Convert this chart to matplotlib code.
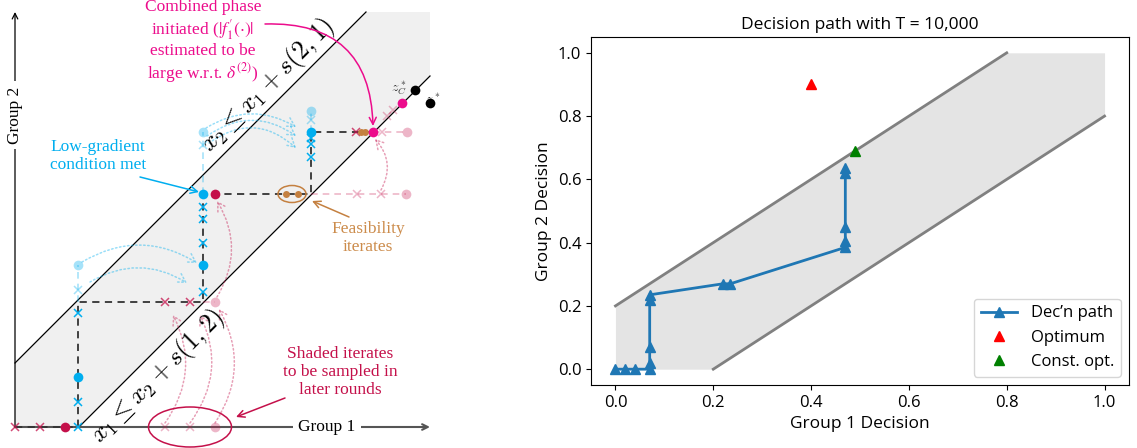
import matplotlib
matplotlib.use("Agg")
import matplotlib.pyplot as plt
from matplotlib.patches import Ellipse, FancyArrowPatch, Polygon

# ---------------- right panel: decision path ----------------
path_x = [0.0, 0.02, 0.04, 0.07, 0.07, 0.07, 0.07, 0.07, 0.22, 0.235, 0.47, 0.47, 0.47, 0.47, 0.47]
path_y = [0.0, 0.0, 0.0, 0.0, 0.02, 0.07, 0.22, 0.235, 0.27, 0.27, 0.385, 0.405, 0.45, 0.62, 0.635]
opt_x, opt_y = [0.4], [0.9]
const_x, const_y = [0.49], [0.69]
band_x = [0.0, 0.2, 0.8, 1.0]
band_lo = [0.0, 0.0, 0.6, 0.8]
band_hi = [0.2, 0.4, 1.0, 1.0]
upper_x, upper_y = [0.0, 0.8], [0.2, 1.0]
lower_x, lower_y = [0.2, 1.0], [0.0, 0.8]
ticks = [0.0, 0.2, 0.4, 0.6, 0.8, 1.0]
legend_labels = ["Dec\u2019n path", "Optimum", "Const. opt."]

# ---------------- left panel: schematic (1 unit = 1 px, origin at axis corner) ----------------
SLACK = 64
AX_LEN = 415
band_u = [0, 0, AX_LEN - SLACK, AX_LEN, AX_LEN, SLACK]
band_v = [0, SLACK, AX_LEN, AX_LEN, AX_LEN - SLACK, 0]

main_u = [0, 63, 63, 188, 188, 296, 296, 358]
main_v = [0, 0, 125, 125, 233, 233, 295, 295]

blue_dot_u = [63, 188, 188, 296]
blue_dot_v = [50, 162, 233, 295]
blue_x_u = [63, 63, 63, 188, 188, 188, 188, 296, 296, 296]
blue_x_v = [0, 25, 114, 135, 184, 208, 220, 270, 283, 289]
lblue_dot_u = [63, 188, 296]
lblue_dot_v = [162, 295, 316]
lblue_x_u = [63, 188, 296]
lblue_x_v = [137, 282, 307]
lblue_seg_u = [[63, 63], [188, 188], [296, 296]]
lblue_seg_v = [[125, 162], [233, 295], [295, 316]]

red_dot_u = [50, 200]
red_dot_v = [0, 233]
red_x_u = [0, 25, 150, 175, 341]
red_x_v = [0, 0, 125, 125, 295]
pink_dot_u = [200, 200, 391, 392]
pink_dot_v = [0, 125, 233, 295]
pink_x_u = [150, 175, 342, 366, 367, 372, 378]
pink_x_v = [0, 0, 233, 233, 295, 311, 317]
pink_seg_u = [[296, 391], [358, 392], [188, 200]]
pink_seg_v = [[233, 233], [295, 295], [125, 125]]

orange_dot_u = [271, 283, 346, 350]
orange_dot_v = [233, 233, 295, 295]
magenta_dot_u = [358, 387]
magenta_dot_v = [295, 324]
black_dot_u = [400, 415]
black_dot_v = [337, 324]

# dotted arcs: start, end, curvature
blue_arc_start = [(67, 165), (75, 145), (191, 299), (192, 291), (194, 284)]
blue_arc_end = [(182, 164), (172, 144), (281, 300), (281, 291), (281, 279)]
blue_arc_rad = [-0.3, -0.3, -0.3, -0.35, -0.4]
pink_arc_start = [(150, 4), (175, 4), (200, 4), (202, 130), (366, 237)]
pink_arc_end = [(158, 112), (185, 112), (204, 118), (202, 226), (360, 288)]
pink_arc_rad = [0.3, 0.3, 0.3, 0.3, 0.35]

BLUE = "#00aeef"
RED = "#c4104a"
MAGENTA = "#ec0c8c"
ORANGE = "#c48040"
ORANGE_TXT = "#cc8c4c"
SERIF = ["Liberation Serif", "DejaVu Serif"]

fig = plt.figure(figsize=(11.37, 4.48), dpi=100)

# ======== left schematic ========
ax = fig.add_axes([0, 0, 460 / 1137, 1])
ax.set_xlim(-15, 445)
ax.set_ylim(-21, 427)
ax.axis("off")

ax.add_patch(Polygon(list(zip(band_u, band_v)), closed=True, facecolor="#f0f0f0", edgecolor="none", zorder=0))
ax.plot([0, AX_LEN - SLACK], [SLACK, AX_LEN], color="black", lw=0.9, zorder=1)
ax.plot([SLACK, AX_LEN], [0, AX_LEN - SLACK], color="black", lw=0.9, zorder=1)

# axes arrows
ax.annotate("", xy=(AX_LEN, 0), xytext=(0, 0),
            arrowprops=dict(arrowstyle="->", color="#555555", lw=1.5, shrinkA=0, shrinkB=0), zorder=1)
ax.annotate("", xy=(0, AX_LEN), xytext=(0, 0),
            arrowprops=dict(arrowstyle="->", color="black", lw=0.9, shrinkA=0, shrinkB=0), zorder=1)
ax.text(312, 0, "Group 1", family=SERIF, fontsize=12.5, ha="center", va="center",
        bbox=dict(facecolor="white", edgecolor="none", pad=4), zorder=2)
ax.text(0, 312, "Group 2", family=SERIF, fontsize=12.5, ha="center", va="center", rotation=90,
        bbox=dict(facecolor="white", edgecolor="none", pad=4), zorder=2)

# constraint labels
ax.text(253, 342, r"$x_2 \leq x_1 + s(2,1)$", fontsize=18.5, math_fontfamily="cm",
        rotation=45, rotation_mode="anchor", ha="center", va="center", zorder=3)
ax.text(143, 51, r"$x_1 \leq x_2 + s(1,2)$", fontsize=18.5, math_fontfamily="cm",
        rotation=45, rotation_mode="anchor", ha="center", va="center", zorder=3)

# faded segments
for su, sv in zip(lblue_seg_u, lblue_seg_v):
    ax.plot(su, sv, color=BLUE, alpha=0.35, lw=1.2, ls=(0, (4, 3)), zorder=2)
for su, sv in zip(pink_seg_u, pink_seg_v):
    ax.plot(su, sv, color=RED, alpha=0.3, lw=1.2, ls=(0, (4, 3)), zorder=2)
ax.plot(main_u, main_v, color="#333333", lw=1.3, ls=(0, (4, 3)), zorder=3)

# dotted arcs
for a, b, r in zip(blue_arc_start, blue_arc_end, blue_arc_rad):
    ax.add_patch(FancyArrowPatch(a, b, connectionstyle=f"arc3,rad={r}", arrowstyle="->,head_length=0.6,head_width=0.35",
                                 mutation_scale=10, color=BLUE, alpha=0.4, lw=1.1, ls=":", shrinkA=0, shrinkB=0, zorder=2))
for a, b, r in zip(pink_arc_start, pink_arc_end, pink_arc_rad):
    ax.add_patch(FancyArrowPatch(a, b, connectionstyle=f"arc3,rad={r}", arrowstyle="->,head_length=0.6,head_width=0.35",
                                 mutation_scale=10, color=RED, alpha=0.4, lw=1.1, ls=":", shrinkA=0, shrinkB=0, zorder=2))

# iterates
ax.plot(lblue_x_u, lblue_x_v, "x", color=BLUE, alpha=0.35, ms=6, mew=1.1, zorder=4)
ax.plot(lblue_dot_u, lblue_dot_v, "o", color=BLUE, alpha=0.35, ms=7, mec="none", zorder=4)
ax.plot(blue_x_u, blue_x_v, "x", color=BLUE, ms=6, mew=1.1, zorder=4)
ax.plot(blue_dot_u, blue_dot_v, "o", color=BLUE, ms=7, mec="none", zorder=5)
ax.plot(pink_x_u, pink_x_v, "x", color=RED, alpha=0.3, ms=6, mew=1.1, zorder=4)
ax.plot(pink_dot_u, pink_dot_v, "o", color=RED, alpha=0.3, ms=7, mec="none", zorder=4)
ax.plot(red_x_u, red_x_v, "x", color=RED, alpha=0.75, ms=6, mew=1.1, zorder=4)
ax.plot(red_dot_u, red_dot_v, "o", color=RED, ms=7, mec="none", zorder=5)
ax.plot(orange_dot_u, orange_dot_v, "o", color=ORANGE, ms=5, mec="none", zorder=5)
ax.plot(magenta_dot_u, magenta_dot_v, "o", color=MAGENTA, ms=7, mec="none", zorder=5)
ax.text(384, 339, r"$z_C^*$", fontsize=10, math_fontfamily="cm", color="#333333",
        ha="center", va="center", zorder=4)
ax.text(418, 327, r"$z^*$", fontsize=10, math_fontfamily="cm", color="#333333",
        ha="center", va="center", zorder=4)
ax.plot(black_dot_u, black_dot_v, "o", color="black", ms=7, mec="none", zorder=5)

ax.add_patch(Ellipse((277, 233), 28, 17, fill=False, edgecolor=ORANGE, lw=1.1, zorder=5))
ax.add_patch(Ellipse((175, 0), 83, 40, fill=False, edgecolor=RED, lw=1.1, zorder=5))

# annotations
ax.text(188, 385, "Combined phase\ninitiated ($|f_1^{\\prime}(\\cdot)|$\nestimated to be\nlarge w.r.t. $\\delta^{(2)}$)",
        family=SERIF, math_fontfamily="stix", fontsize=12.5, color=MAGENTA, ha="center", va="center",
        linespacing=1.1, zorder=6)
ax.annotate("", xy=(358, 301), xytext=(250, 403),
            arrowprops=dict(arrowstyle="->,head_length=0.5,head_width=0.25", color=MAGENTA, lw=1.1,
                            connectionstyle="arc3,rad=-0.5", shrinkA=0, shrinkB=0), zorder=6)
ax.text(83, 271, "Low-gradient\ncondition met", family=SERIF, fontsize=12.5, color=BLUE,
        ha="center", va="center", linespacing=1.15, zorder=6)
ax.annotate("", xy=(184, 235), xytext=(125, 250),
            arrowprops=dict(arrowstyle="->,head_length=0.5,head_width=0.25", color=BLUE, lw=1.1,
                            shrinkA=0, shrinkB=0), zorder=6)
ax.text(353, 189, "Feasibility\niterates", family=SERIF, fontsize=12.5, color=ORANGE_TXT,
        ha="center", va="center", linespacing=1.15, zorder=6)
ax.annotate("", xy=(297, 226), xytext=(334, 210),
            arrowprops=dict(arrowstyle="->,head_length=0.5,head_width=0.25", color=ORANGE, lw=1.1,
                            shrinkA=0, shrinkB=0), zorder=6)
ax.text(325, 55, "Shaded iterates\nto be sampled in\nlater rounds", family=SERIF, fontsize=12.5,
        color=RED, ha="center", va="center", linespacing=1.15, zorder=6)
ax.annotate("", xy=(221, 10), xytext=(270, 29),
            arrowprops=dict(arrowstyle="->,head_length=0.5,head_width=0.25", color=RED, lw=1.1,
                            shrinkA=0, shrinkB=0), zorder=6)

# ======== right chart ========
SANS = ["Open Sans", "DejaVu Sans"]
bx = fig.add_axes([591 / 1137, 1 - 385 / 448, 538 / 1137, 348 / 448])
bx.fill_between(band_x, band_lo, band_hi, color="lightgray", alpha=0.6, lw=0)
bx.plot(upper_x, upper_y, color="gray", lw=2)
bx.plot(lower_x, lower_y, color="gray", lw=2)
bx.plot(path_x, path_y, "-^", color="#1f77b4", lw=2, ms=7, label=legend_labels[0])
bx.plot(opt_x, opt_y, "^", color="red", ms=7, ls="none", label=legend_labels[1])
bx.plot(const_x, const_y, "^", color="green", ms=7, ls="none", label=legend_labels[2])
bx.set_xticks(ticks)
bx.set_yticks(ticks)
for lab in bx.get_xticklabels() + bx.get_yticklabels():
    lab.set_family(SANS)
    lab.set_fontsize(12)
bx.set_xlabel("Group 1 Decision", family=SANS, fontsize=12.5)
bx.set_ylabel("Group 2 Decision", family=SANS, fontsize=12.5)
bx.set_title("Decision path with T = 10,000", family=SANS, fontsize=12.5)
bx.legend(loc="lower right", prop=dict(family=SANS, size=12), handlelength=2.2)

fig.savefig("out.png", dpi=100)
